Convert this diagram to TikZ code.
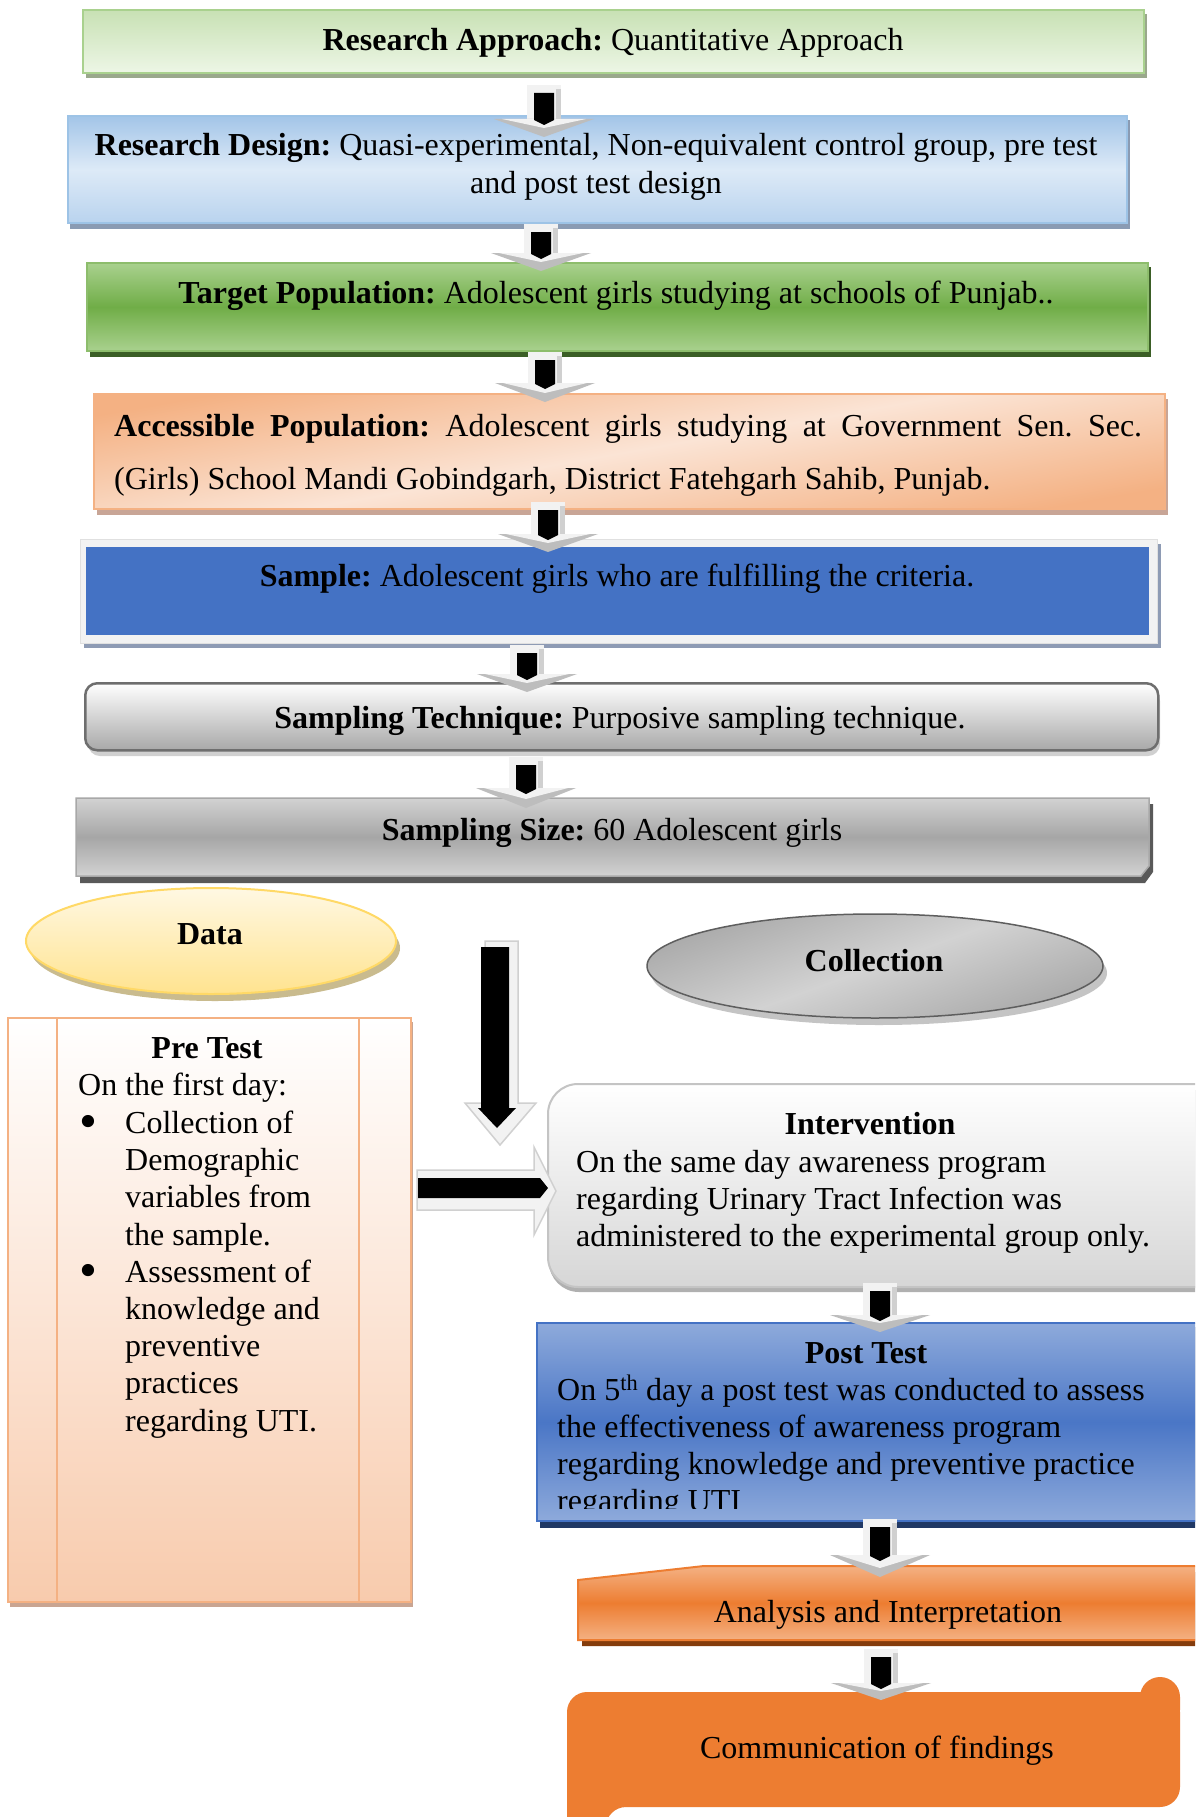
\documentclass[tikz,border=0pt]{standalone}
\usepackage{fontspec}
\setmainfont{Liberation Serif}
\usetikzlibrary{shapes.geometric}
\frenchspacing
\definecolor{gOneT}{HTML}{C8E1B4}
\definecolor{gOneB}{HTML}{EDF6E6}
\definecolor{gOneD}{HTML}{A9D18E}
\definecolor{gOneS}{HTML}{9AA88C}
\definecolor{bTwoT}{HTML}{A3C5E8}
\definecolor{bTwoM}{HTML}{DDEAF7}
\definecolor{bTwoB}{HTML}{B9D3EE}
\definecolor{bTwoD}{HTML}{9DC3E6}
\definecolor{bTwoS}{HTML}{8A9BB3}
\definecolor{gThrL}{HTML}{A9D18E}
\definecolor{gThrM}{HTML}{70AD47}
\definecolor{gThrS}{HTML}{3B5E26}
\definecolor{oFourL}{HTML}{F4B183}
\definecolor{oFourM}{HTML}{FBE4D5}
\definecolor{oFourS}{HTML}{C8A596}
\definecolor{bFive}{HTML}{4472C4}
\definecolor{bFiveF}{HTML}{F2F2F2}
\definecolor{bFiveS}{HTML}{8E9BB4}
\definecolor{grSixB}{HTML}{A8A8A8}
\definecolor{grSixD}{HTML}{6E6E6E}
\definecolor{grSixS}{HTML}{D0D0D0}
\definecolor{grSevL}{HTML}{D2D2D2}
\definecolor{grSevM}{HTML}{A6A6A6}
\definecolor{grSevS}{HTML}{595959}
\definecolor{yT}{HTML}{FFF8E3}
\definecolor{yB}{HTML}{FFE38F}
\definecolor{yD}{HTML}{FFD966}
\definecolor{yS}{HTML}{C9BB8E}
\definecolor{cT}{HTML}{A9A9A9}
\definecolor{cM}{HTML}{D2D2D2}
\definecolor{cD}{HTML}{5E5E5E}
\definecolor{cS}{HTML}{C4C4C4}
\definecolor{pB}{HTML}{F8CBAD}
\definecolor{pD}{HTML}{F4B183}
\definecolor{pS}{HTML}{C9A592}
\definecolor{iB}{HTML}{D6D6D6}
\definecolor{iD}{HTML}{C4C4C4}
\definecolor{iS}{HTML}{B0B0B0}
\definecolor{ptL}{HTML}{8EAADB}
\definecolor{ptM}{HTML}{4A76C6}
\definecolor{ptD}{HTML}{4472C4}
\definecolor{ptS}{HTML}{203864}
\definecolor{anL}{HTML}{F4B183}
\definecolor{anM}{HTML}{ED7D31}
\definecolor{anS}{HTML}{843C0C}
\definecolor{comm}{HTML}{ED7D31}
\definecolor{arrW}{HTML}{F2F2F2}
\definecolor{arrG}{HTML}{D0D0D0}
\definecolor{arrH}{HTML}{BDBDBD}
\newcommand{\barrow}[4]{%
  \fill[arrW] (#1-17,#2) rectangle (#1+17,#3);
  \fill[arrG] (#1+12,#2+4) rectangle (#1+17,#3);
  \fill[arrH] (#1-50,#3) -- (#1+50,#3) -- (#1,#4) -- cycle;
  \fill[arrW] (#1-42,#3) -- (#1+42,#3) -- (#1,#4-9) -- cycle;
  \fill[black] (#1-10,#2+8) -- (#1+10,#2+8) -- (#1+10,#3+1) -- (#1,#3+6) -- (#1-10,#3+1) -- cycle;
}
\newcommand{\bigbul}{\raisebox{-5pt}{\scalebox{1.6}{\textbullet}}}
\begin{document}
\begin{tikzpicture}[x=1pt,y=-1pt,
  txt/.style={inner sep=0pt, font=\fontsize{32}{36.8}\selectfont},
  boxnode/.style={inner sep=0pt, anchor=north west}]
\path[use as bounding box] (0,0) rectangle (1195,1817);
\clip (0,0) rectangle (1195,1817);
\fill[white] (0,0) rectangle (1195,1817);

% ---------- Box 1
\fill[gOneS] (86,14) rectangle (1147,78);
\node[boxnode, minimum width=1061, minimum height=63, draw=gOneD, line width=2, top color=gOneT, bottom color=gOneB] (approach) at (82,9) {};
\node[txt, anchor=base] (approachT) at (613,51) {\textbf{Research Approach:} Quantitative Approach};

% ---------- Box 2
\fill[bTwoS] (70,120) rectangle (1130,229);
\node[boxnode, minimum width=1059, minimum height=107, draw=bTwoD, line width=2, top color=bTwoT, bottom color=bTwoB, middle color=bTwoM] (design) at (67,115) {};
\node[txt, anchor=base] (designT1) at (596,156) {\textbf{Research Design:} Quasi-experimental, Non-equivalent control group, pre test};
\node[txt, anchor=base] (designT2) at (596,193) {and post test design};

% ---------- Box 3
\fill[gThrS] (90,267) rectangle (1151,357);
\node[boxnode, minimum width=1061, minimum height=88, draw=gThrM!80, line width=2, top color=gThrL, bottom color=gThrL, middle color=gThrM] (target) at (86,262) {};
\node[txt, anchor=base] (targetT) at (616,303) {\textbf{Target Population:} Adolescent girls studying at schools of Punjab..};

% ---------- Box 4
\fill[oFourS] (97,399) rectangle (1168,515);
\node[boxnode, minimum width=1071, minimum height=115, draw=oFourL, line width=2, top color=oFourL, bottom color=oFourL, middle color=oFourM, shading angle=10] (access) at (93,393) {};
\node[txt, anchor=base west] (accessT1) at (114,436) {\makebox[1028pt][s]{\textbf{Accessible Population:} Adolescent girls studying at Government Sen. Sec.}};
\node[txt, anchor=base west] (accessT2) at (114,489) {(Girls) School Mandi Gobindgarh, District Fatehgarh Sahib, Punjab.};

% ---------- Box 5
\fill[bFiveS] (84,544) rectangle (1161,648);
\node[boxnode, minimum width=1077, minimum height=104, fill=bFiveF, draw=black!12, line width=1] (sampleF) at (80,539) {};
\node[boxnode, minimum width=1063, minimum height=88, fill=bFive] (sample) at (86,547) {};
\node[txt, anchor=base] (sampleT) at (617,586) {\textbf{Sample:} Adolescent girls who are fulfilling the criteria.};

% ---------- Box 6
\fill[grSixS, rounded corners=12] (88,689) rectangle (1160,756);
\node[boxnode, minimum width=1073, minimum height=67, rounded corners=12, draw=grSixD, line width=2.5, top color=white, bottom color=grSixB] (technique) at (84,682) {};
\node[txt, anchor=base] (techniqueT) at (620,728) {\textbf{Sampling Technique:} Purposive sampling technique.};

% ---------- Box 7
\fill[grSevS] (80,804) -- (1153,804) -- (1153,872) -- (1145,883) -- (80,883) -- cycle;
\path[draw=grSevL!80!black, line width=1.5, top color=grSevL, bottom color=grSevL, middle color=grSevM] (76,798) -- (1149,798) -- (1149,866) -- (1141,876) -- (76,876) -- cycle;
\node[inner sep=0pt, minimum width=1073, minimum height=78, anchor=north west] (size) at (76,798) {};
\node[txt, anchor=base] (sizeT) at (612,840) {\textbf{Sampling Size:} 60 Adolescent girls};

% ---------- Data ellipse
\fill[yS] (215,948) ellipse [x radius=185, y radius=53];
\node[ellipse, inner sep=0pt, minimum width=370, minimum height=106, draw=yD, line width=2, top color=yT, bottom color=yB] (data) at (211,941) {};
\node[txt, anchor=base] (dataT) at (210,944) {\textbf{Data}};

% ---------- Collection ellipse
\fill[cS] (879,973) ellipse [x radius=228, y radius=52];
\node[ellipse, inner sep=0pt, minimum width=456, minimum height=104, draw=cD, line width=1.5, top color=cT, bottom color=cT, middle color=cM, shading angle=20] (collection) at (875,966) {};
\node[txt, anchor=base] (collectionT) at (874,971) {\textbf{Collection}};

% ---------- Pre Test box
\fill[pS] (10,1022) rectangle (413,1607);
\node[boxnode, minimum width=403, minimum height=584, draw=pD, line width=2, top color=white, bottom color=pB] (pretest) at (7,1017) {};
\draw[pD, line width=2] (57,1017) -- (57,1601) (359,1017) -- (359,1601);
\node[txt, anchor=base] (preT0) at (207,1058) {\textbf{Pre Test}};
\node[txt, anchor=base west] (preT1) at (78,1095) {On the first day:};
\node[txt, anchor=base west] (preB1) at (79,1133) {\bigbul};
\node[txt, anchor=base west] (preT2) at (125,1133) {Collection of};
\node[txt, anchor=base west] (preT3) at (125,1170) {Demographic};
\node[txt, anchor=base west] (preT4) at (125,1207) {variables from};
\node[txt, anchor=base west] (preT5) at (125,1245) {the sample.};
\node[txt, anchor=base west] (preB2) at (79,1282) {\bigbul};
\node[txt, anchor=base west] (preT6) at (125,1282) {Assessment of};
\node[txt, anchor=base west] (preT7) at (125,1319) {knowledge and};
\node[txt, anchor=base west] (preT8) at (125,1356) {preventive};
\node[txt, anchor=base west] (preT9) at (125,1393) {practices};
\node[txt, anchor=base west] (preT10) at (125,1431) {regarding UTI.};

% ---------- Intervention
\fill[iS, rounded corners=30] (549,1090) rectangle (1235,1292);
\node[boxnode, minimum width=683, minimum height=203, rounded corners=30, draw=iD, line width=2, top color=white, bottom color=iB] (intervention) at (547,1083) {};
\node[txt, anchor=base] (intT0) at (870,1134) {\textbf{Intervention}};
\node[txt, anchor=base west] (intT1) at (576,1172) {On the same day awareness program};
\node[txt, anchor=base west] (intT2) at (576,1209) {regarding Urinary Tract Infection was};
\node[txt, anchor=base west] (intT3) at (576,1246) {administered to the experimental group only.};

% ---------- Post Test
\fill[ptS] (540,1327) rectangle (1235,1528);
\node[boxnode, minimum width=690, minimum height=198, draw=ptD, line width=2, top color=ptL, bottom color=ptL, middle color=ptM] (posttest) at (536,1322) {};
\begin{scope}
\clip (536,1322) rectangle (1195,1508);
\node[txt, anchor=base] (postT0) at (866,1363) {\textbf{Post Test}};
\node[txt, anchor=base west] (postT1) at (557,1400) {On 5\textsuperscript{th} day a post test was conducted to assess};
\node[txt, anchor=base west] (postT2) at (557,1437) {the effectiveness of awareness program};
\node[txt, anchor=base west] (postT3) at (557,1474) {regarding knowledge and preventive practice};
\node[txt, anchor=base west] (postT4) at (557,1511) {regarding UTI};
\end{scope}

% ---------- Analysis
\fill[anS] (582,1586) -- (708,1572) -- (1235,1572) -- (1235,1646) -- (582,1646) -- cycle;
\path[draw=anM, line width=2, top color=anL, bottom color=anL, middle color=anM] (578,1580) -- (704,1566) -- (1230,1566) -- (1230,1640) -- (578,1640) -- cycle;
\node[inner sep=0pt, minimum width=652, minimum height=74, anchor=north west] (analysis) at (578,1566) {};
\node[txt, anchor=base] (analysisT) at (888,1622) {Analysis and Interpretation};

% ---------- Communication (scroll)
\fill[comm, rounded corners=20] (567,1840) -- (567,1692) -- (1180,1692) -- (1180,1807) -- (606,1807) -- (606,1840) -- cycle;
\fill[comm, rounded corners=20] (1140,1730) -- (1140,1677) -- (1180,1677) -- (1180,1730) -- cycle;
\node[inner sep=0pt, minimum width=613, minimum height=115, anchor=north west] (communication) at (567,1692) {};
\node[txt, anchor=base] (communicationT) at (877,1758) {Communication of findings};

% ---------- block arrows between boxes
\barrow{544}{85}{119}{137}
\barrow{541}{224}{253}{271}
\barrow{545}{352}{383}{402}
\barrow{548}{502}{534}{552}
\barrow{527}{645}{674}{692}
\barrow{526}{757}{788}{808}
\barrow{880}{1283}{1315}{1332}
\barrow{880}{1519}{1555}{1577}
\barrow{881}{1649}{1683}{1700}

% ---------- big down arrow
\path[fill=arrW, draw=arrG, line width=1.5] (485,941) -- (518,941) -- (518,1103) -- (536,1103) -- (500,1145) -- (465,1103) -- (485,1103) -- cycle;
\fill[black] (481,947) -- (509,947) -- (509,1108) -- (516,1108) -- (497,1128) -- (478,1108) -- (481,1108) -- cycle;

% ---------- horizontal arrow
\path[fill=arrW, draw=arrG, line width=1.5] (417,1170) -- (534,1170) -- (534,1147) -- (556,1191) -- (534,1235) -- (534,1210) -- (417,1210) -- cycle;
\fill[black] (418,1178) -- (540,1178) -- (548,1188) -- (540,1198) -- (418,1198) -- cycle;
\end{tikzpicture}
\end{document}
